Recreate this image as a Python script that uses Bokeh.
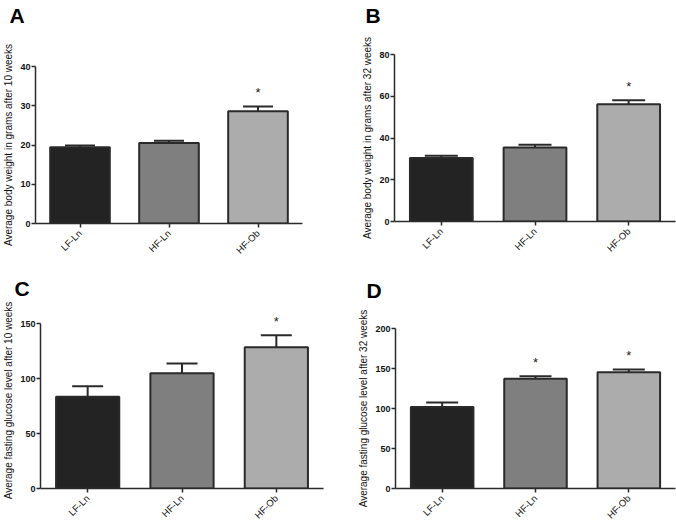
from bokeh.plotting import figure
from bokeh.layouts import column, row
from bokeh.models import (ColumnDataSource, Whisker, TeeHead, Label, FactorRange,
                          Range1d, FixedTicker, Title)
from bokeh.embed import file_html
from bokeh.resources import INLINE
import math

# ---------------- data ----------------
groups = ["LF-Ln", "HF-Ln", "HF-Ob"]
bar_colors = ["#232323", "#7f7f7f", "#acacac"]

weight_10wk_mean = [19.4, 20.5, 28.6]
weight_10wk_sem = [0.5, 0.6, 1.2]
weight_10wk_sig = [False, False, True]

weight_32wk_mean = [30.4, 35.5, 56.2]
weight_32wk_sem = [1.1, 1.3, 1.9]
weight_32wk_sig = [False, False, True]

glucose_10wk_mean = [83.5, 104.8, 128.4]
glucose_10wk_sem = [9.4, 8.8, 11.0]
glucose_10wk_sig = [False, False, True]

glucose_32wk_mean = [101.8, 137.2, 145.3]
glucose_32wk_sem = [5.6, 3.2, 3.6]
glucose_32wk_sig = [False, True, True]

y_max = [40, 80, 150, 200]
y_ticks = [[0, 10, 20, 30, 40], [0, 20, 40, 60, 80], [0, 50, 100, 150], [0, 50, 100, 150, 200]]
y_titles = ["Average body weight in grams after 10 weeks",
            "Average body weight in grams after 32 weeks",
            "Average fasting glucose level after 10 weeks",
            "Average fasting glucose level after 32 weeks"]
panel_letters = ["A", "B", "C", "D"]

FONT = "Liberation Sans"
AX = "#2a2a2a"


def panel(letter, letter_pos, means, sems, sigs, ymax, ticks, ytitle, w, h, borders, cap,
          headroom=0.0):
    bl, br, bt, bb = borders
    p = figure(x_range=FactorRange(factors=groups, range_padding=0),
               y_range=Range1d(0, ymax * (1 + headroom)), width=w, height=h,
               output_backend="svg", toolbar_location=None,
               min_border_left=bl, min_border_right=br,
               min_border_top=bt, min_border_bottom=bb)
    p.outline_line_color = None
    p.xgrid.grid_line_color = None
    p.ygrid.grid_line_color = None
    p.background_fill_color = "white"
    p.border_fill_color = "white"

    # panel letter: a spacer title next to the frame, the letter title outside it
    loff, gap = letter_pos
    p.add_layout(Title(text=" ", text_font_size="1px", standoff=gap), "above")
    p.add_layout(Title(text=letter, align="left", offset=loff, vertical_align="top",
                       standoff=0, text_font=FONT, text_font_style="bold",
                       text_font_size="21px", text_color="#000000"), "above")

    upper = [m + s for m, s in zip(means, sems)]
    src = ColumnDataSource(dict(x=groups, top=means, upper=upper, color=bar_colors))
    p.vbar(x="x", top="top", width=0.67, source=src, fill_color="color",
           line_color=AX, line_width=2)
    p.add_layout(Whisker(source=src, base="x", lower="top", upper="upper",
                         line_color=AX, line_width=2, lower_head=None,
                         upper_head=TeeHead(size=cap, line_color=AX, line_width=2)))
    for i, (u, s) in enumerate(zip(upper, sigs)):
        if s:
            p.add_layout(Label(x=i + 0.5, y=u, text="*", y_offset=14,
                               text_align="center", text_baseline="middle",
                               text_font=FONT, text_font_size="13px", text_color="#222222"))

    for ax in (p.xaxis[0], p.yaxis[0]):
        ax.axis_line_color = AX
        ax.axis_line_width = 1.5
        ax.major_tick_line_color = AX
        ax.major_tick_line_width = 1.5
        ax.major_tick_out = 4
        ax.major_tick_in = 0
        ax.minor_tick_line_color = None
        ax.major_label_text_font = FONT
        ax.major_label_text_color = "#111111"

    p.yaxis.ticker = FixedTicker(ticks=ticks)
    p.yaxis.bounds = (0, ymax)
    p.yaxis.major_label_text_font_style = "bold"
    p.yaxis.major_label_text_font_size = "9px"
    p.yaxis.major_label_standoff = 1
    p.yaxis.axis_label = ytitle
    p.yaxis.axis_label_text_font = FONT
    p.yaxis.axis_label_text_font_style = "normal"
    p.yaxis.axis_label_text_font_size = "10px"
    p.yaxis.axis_label_text_color = "#111111"
    p.yaxis.axis_label_standoff = 3

    p.xaxis.major_label_orientation = math.pi / 4
    p.xaxis.major_label_text_font_size = "9.5px"
    p.xaxis.major_label_standoff = 4
    return p


pA = panel("A", (-26, 35), weight_10wk_mean, weight_10wk_sem, weight_10wk_sig, y_max[0], y_ticks[0],
           y_titles[0], 338, 264, (35, 36, 66, 41), 30)
pB = panel("B", (-29, 23), weight_32wk_mean, weight_32wk_sem, weight_32wk_sig, y_max[1], y_ticks[1],
           y_titles[1], 338, 264, (56, 1, 54, 43), 33)
pC = panel("C", (-26, 8), glucose_10wk_mean, glucose_10wk_sem, glucose_10wk_sig, y_max[2], y_ticks[2],
           y_titles[2], 338, 263, (36, 15, 48, 39), 31, headroom=0.0667)
pD = panel("D", (-29, 22), glucose_32wk_mean, glucose_32wk_sem, glucose_32wk_sig, y_max[3], y_ticks[3],
           y_titles[3], 338, 263, (57, 1, 64, 33), 32)

layout = column(row(column(pA), column(pB), spacing=0),
                row(column(pC), column(pD), spacing=0), spacing=0)
open("out.html", "w").write(file_html(layout, INLINE))
